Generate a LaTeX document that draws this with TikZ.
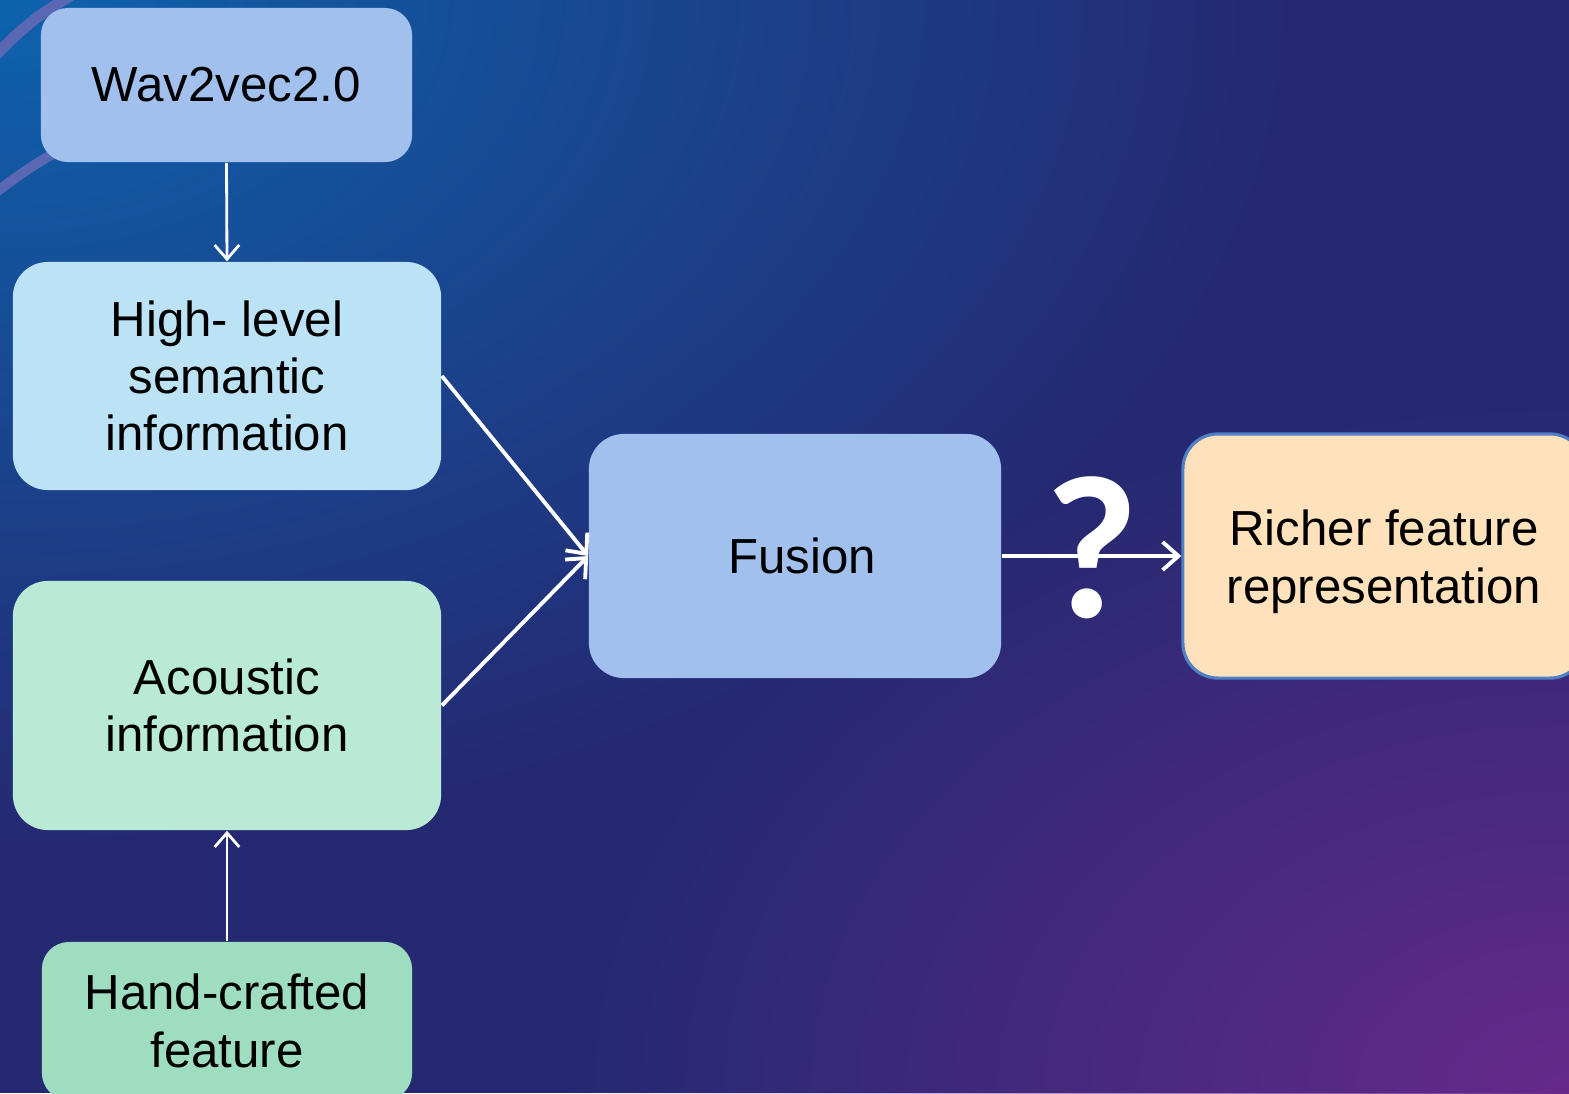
\documentclass[tikz,border=0pt]{standalone}
\usepackage{fontspec}
\setmainfont{Liberation Sans}
\newfontfamily\qfont{Carlito}
\usetikzlibrary{arrows.meta,fadings}
\tikzfading[name=radfade, inner color=transparent!0, outer color=transparent!100]
\definecolor{bgbase}{HTML}{252972}
\definecolor{bgblue}{HTML}{0E63AD}
\definecolor{bgpurple}{HTML}{662A8B}
\definecolor{bandcol}{HTML}{5A68B4}
\definecolor{cwav}{HTML}{A2C0EE}
\definecolor{chigh}{HTML}{BCE2F5}
\definecolor{cacou}{HTML}{B9EAD6}
\definecolor{chand}{HTML}{9EDDBF}
\definecolor{crich}{HTML}{FFE2BB}
\definecolor{crichb}{HTML}{4F7FC4}
\begin{document}
\begin{tikzpicture}[x=0.01cm,y=-0.01cm,
  box/.style={rounded corners=0.35cm, inner sep=0pt, align=center,
    font=\fontsize{14}{16.3}\selectfont, text=black},
  conn/.style={draw=white, line width=0.8pt,
    -{Straight Barb[length=4pt,width=7pt,line width=0.8pt]}},
  conntwo/.style={draw=white, line width=1.1pt,
    -{Straight Barb[length=4.5pt,width=8pt,line width=1.1pt]}}]
\useasboundingbox (0,0) rectangle (1569,1093);
\clip (0,0) rectangle (1569,1093);
% background
\fill[bgbase] (0,0) rectangle (1569,1093);
\fill[bgblue, path fading=radfade] (0,0) ellipse (13cm and 8.5cm);
\fill[bgpurple, path fading=radfade] (1569,1093) ellipse (10cm and 7cm);
% decorative bands
\draw[bandcol, line width=0.11cm] (-5,56) to[bend left=8] (72,-5);
\draw[bandcol, line width=0.1cm] (-5,193) to[bend left=6] (90,135);
% nodes
\node[box, rounded corners=0.27cm, fill=cwav, minimum width=3.71cm, minimum height=1.54cm] (w2v) at (226.5,85) {Wav2vec2.0};
\node[box, fill=chigh, minimum width=4.28cm, minimum height=2.28cm] (high) at (227,376) {High- level\\semantic\\information};
\node[box, fill=cacou, minimum width=4.28cm, minimum height=2.49cm] (acou) at (227,705.5) {Acoustic\\information};
\node[box, rounded corners=0.27cm, fill=chand, minimum width=3.70cm, minimum height=1.58cm] (hand) at (227,1021) {Hand-crafted\\feature};
\node[box, fill=cwav, minimum width=4.12cm, minimum height=2.44cm] (fus) at (795,556) {\hspace*{0.14cm}Fusion};
\node[box, fill=crich, draw=crichb, line width=0.9pt, minimum width=4.02cm, minimum height=2.44cm] (rich) at (1384,556) {\rule{0pt}{0pt}\\[-0.1cm]Richer feature\\representation};
% connectors
\draw[conn] (w2v.south) -- (high.north);
\draw[conn] (hand.north) -- (acou.south);
\draw[conntwo] (high.east) -- (fus.west);
\draw[conntwo] (acou.east) -- (fus.west);
\draw[conntwo] (fus.east) -- (rich.west);
% question mark
\node[anchor=base, inner sep=0pt, text=white, font=\qfont\bfseries\fontsize{58}{58}\selectfont] (q) at (1092,617) {?};
\end{tikzpicture}
\end{document}
